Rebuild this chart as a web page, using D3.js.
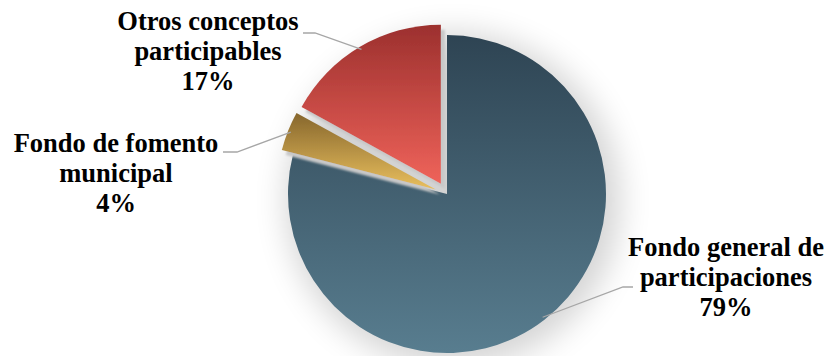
<!DOCTYPE html>
<html>
<head>
<meta charset="utf-8">
<script src="https://cdn.jsdelivr.net/npm/d3@7/dist/d3.min.js"></script>
<style>
  html, body { margin: 0; padding: 0; background: #ffffff; }
  svg { display: block; }
</style>
</head>
<body>
<svg id="chart" width="827" height="356"></svg>
<script>
// Shares of the transfers, drawn clockwise from 12 o'clock
const categories = ["Fondo general de participaciones", "Fondo de fomento municipal", "Otros conceptos participables"];
const labelLines = [["Fondo general de", "participaciones"], ["Fondo de fomento", "municipal"], ["Otros conceptos", "participables"]];
const shares = [79, 4, 17];
const percentLabels = ["79%", "4%", "17%"];

// Colour ramps (top -> bottom) for each slice
const gradTop = ["#2e4453", "#86662c", "#9c302e"];
const gradBottom = ["#587d8f", "#e9bf5e", "#ef635a"];
const exploded = [0, 12, 12];

// Label block anchors (centre x, first baseline y) and leader elbows
const labelPos = [[726, 256], [116, 152], [208, 29.5]];
const elbowPos = [[623, 287], [237, 152], [315, 33]];
const leaderEnd = [[633, 287], [223, 152], [303, 33]];

const svg = d3.select("#chart");
const cx = 447, cy = 194, R = 159;
const FONT = "'Liberation Serif', Tinos, 'Times New Roman', serif";

const defs = svg.append("defs");
categories.forEach((c, i) => {
  const g = defs.append("linearGradient").attr("id", "grad" + i);
  if (i === 0) {
    g.attr("gradientUnits", "userSpaceOnUse")
      .attr("x1", 0).attr("y1", -R).attr("x2", 0).attr("y2", R);
  } else {
    g.attr("gradientUnits", "objectBoundingBox")
      .attr("x1", 0).attr("y1", 0).attr("x2", 0).attr("y2", 1);
  }
  g.append("stop").attr("offset", "0%").attr("stop-color", gradTop[i]);
  g.append("stop").attr("offset", "100%").attr("stop-color", gradBottom[i]);
});

// soft halo behind the pie
const halo = defs.append("filter").attr("id", "halo")
  .attr("x", "-40%").attr("y", "-40%").attr("width", "180%").attr("height", "180%");
halo.append("feGaussianBlur").attr("stdDeviation", 16);

// hard grey drop shadow for slices
const drop = defs.append("filter").attr("id", "drop")
  .attr("x", "-20%").attr("y", "-20%").attr("width", "140%").attr("height", "140%");
drop.append("feOffset").attr("in", "SourceAlpha").attr("dx", 4).attr("dy", 5).attr("result", "off");
drop.append("feGaussianBlur").attr("in", "off").attr("stdDeviation", 0.8).attr("result", "blur");
drop.append("feFlood").attr("flood-color", "#c8c8c8");
drop.append("feComposite").attr("in2", "blur").attr("operator", "in").attr("result", "shadow");
const merge = drop.append("feMerge");
merge.append("feMergeNode").attr("in", "shadow");
merge.append("feMergeNode").attr("in", "SourceGraphic");

const pie = d3.pie().sort(null).value(d => d)(shares);
const arc = d3.arc().innerRadius(0).outerRadius(R);

svg.append("circle")
  .attr("cx", cx + 6).attr("cy", cy + 6).attr("r", R + 8)
  .attr("fill", "#000").attr("opacity", 0.17)
  .attr("filter", "url(#halo)");

const g = svg.append("g").attr("transform", `translate(${cx},${cy})`);

function offsetOf(d, i) {
  const mid = (d.startAngle + d.endAngle) / 2;
  return [Math.sin(mid) * exploded[i], -Math.cos(mid) * exploded[i]];
}

g.selectAll("path.slice")
  .data(pie)
  .join("path")
  .attr("class", "slice")
  .attr("d", arc)
  .attr("transform", (d, i) => { const o = offsetOf(d, i); return `translate(${o[0]},${o[1]})`; })
  .attr("fill", (d, i) => `url(#grad${i})`)
  .attr("filter", (d, i) => i === 0 ? null : "url(#drop)");

// leader lines
g.selectAll("polyline.leader")
  .data(pie)
  .join("polyline")
  .attr("class", "leader")
  .attr("fill", "none")
  .attr("stroke", "#a6a6a6")
  .attr("stroke-width", 1.3)
  .attr("points", (d, i) => {
    const o = offsetOf(d, i);
    const mid = (d.startAngle + d.endAngle) / 2;
    const p0 = [o[0] + Math.sin(mid) * (R - 3), o[1] - Math.cos(mid) * (R - 3)];
    const p1 = [elbowPos[i][0] - cx, elbowPos[i][1] - cy];
    const p2 = [leaderEnd[i][0] - cx, leaderEnd[i][1] - cy];
    return [p0, p1, p2].map(p => p.join(",")).join(" ");
  });

// labels
const lineH = 30;
categories.forEach((c, i) => {
  const t = svg.append("text")
    .attr("text-anchor", "middle")
    .attr("font-family", FONT)
    .attr("font-weight", "bold")
    .attr("font-size", 26.5)
    .attr("fill", "#000");
  labelLines[i].concat([percentLabels[i]]).forEach((s, k) => {
    t.append("tspan").attr("x", labelPos[i][0]).attr("y", labelPos[i][1] + k * lineH).text(s);
  });
});
</script>
</body>
</html>
